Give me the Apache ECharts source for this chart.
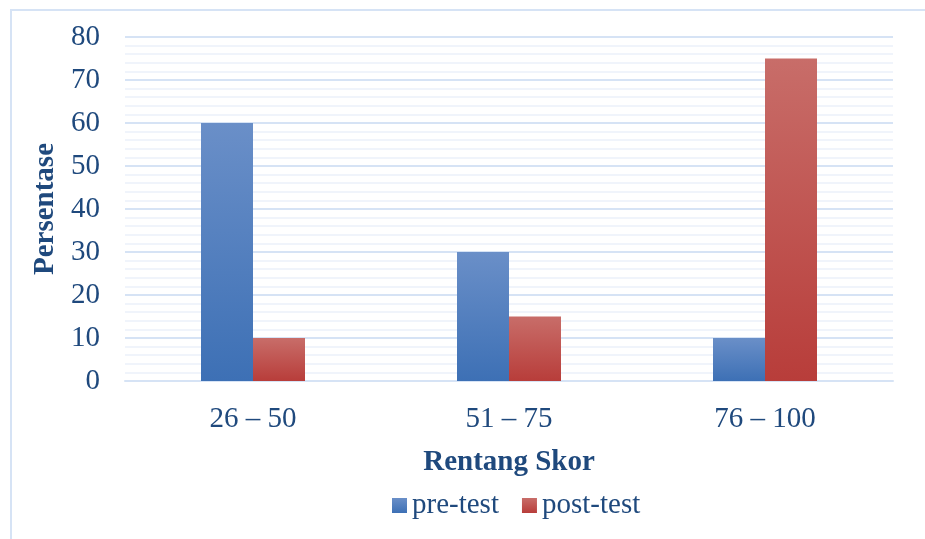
<!DOCTYPE html>
<html>
<head>
<meta charset="utf-8">
<script src="https://cdn.jsdelivr.net/npm/echarts@6/dist/echarts.min.js"></script>
<style>
  html, body { margin: 0; padding: 0; background: #fff; }
  #chart { width: 925px; height: 539px; }
</style>
</head>
<body>
<div id="chart"></div>
<script>
const categories = ['26 – 50', '51 – 75', '76 – 100'];
const preTest = [60, 30, 10];
const postTest = [10, 15, 75];
const yTicks = [0, 10, 20, 30, 40, 50, 60, 70, 80];

const TEXT = '#1f497d';
const FONT = 'Liberation Serif';

const grad = (top, bottom) => new echarts.graphic.LinearGradient(0, 0, 0, 1, [
  { offset: 0, color: top },
  { offset: 1, color: bottom },
]);

const chart = echarts.init(document.getElementById('chart'));

chart.setOption({
  animation: false,
  textStyle: { fontFamily: FONT, color: TEXT },
  graphic: [{
    type: 'rect',
    shape: { x: 11, y: 10, width: 930, height: 540 },
    style: { fill: 'none', stroke: '#d6e3f5', lineWidth: 2 },
    silent: true,
  }],
  grid: { left: 125, right: 32, top: 37, bottom: 158 },
  legend: {
    bottom: 14,
    left: 387,
    itemWidth: 15,
    itemHeight: 15,
    itemGap: 23,
    icon: 'rect',
    textStyle: { fontFamily: FONT, fontSize: 29, color: TEXT },
    data: ['pre-test', 'post-test'],
  },
  xAxis: {
    type: 'category',
    data: categories,
    name: 'Rentang Skor',
    nameLocation: 'middle',
    nameGap: 67,
    nameTextStyle: { fontFamily: FONT, fontSize: 29, fontWeight: 'bold', color: TEXT },
    axisLine: { lineStyle: { color: '#d6e3f5', width: 2 } },
    axisTick: { show: false },
    axisLabel: { fontFamily: FONT, fontSize: 29, color: TEXT, margin: 24 },
  },
  yAxis: {
    type: 'value',
    min: yTicks[0],
    max: yTicks[yTicks.length - 1],
    interval: 10,
    name: 'Persentase',
    nameLocation: 'middle',
    nameGap: 61,
    nameTextStyle: { fontFamily: FONT, fontSize: 29, fontWeight: 'bold', color: TEXT },
    axisLine: { show: false },
    axisTick: { show: false },
    axisLabel: { fontFamily: FONT, fontSize: 29, color: TEXT, margin: 25 },
    splitLine: { lineStyle: { color: '#d6e3f5', width: 2 } },
    minorTick: { show: false, splitNumber: 5 },
    minorSplitLine: { show: true, lineStyle: { color: '#f0f4fb', width: 2 } },
  },
  series: [
    {
      name: 'pre-test',
      type: 'bar',
      data: preTest,
      barWidth: 52,
      barGap: '0%',
      itemStyle: { color: grad('#6a8fc8', '#3d70b5') },
    },
    {
      name: 'post-test',
      type: 'bar',
      data: postTest,
      barWidth: 52,
      itemStyle: { color: grad('#c86d69', '#b83d3a') },
    },
  ],
});
</script>
</body>
</html>
